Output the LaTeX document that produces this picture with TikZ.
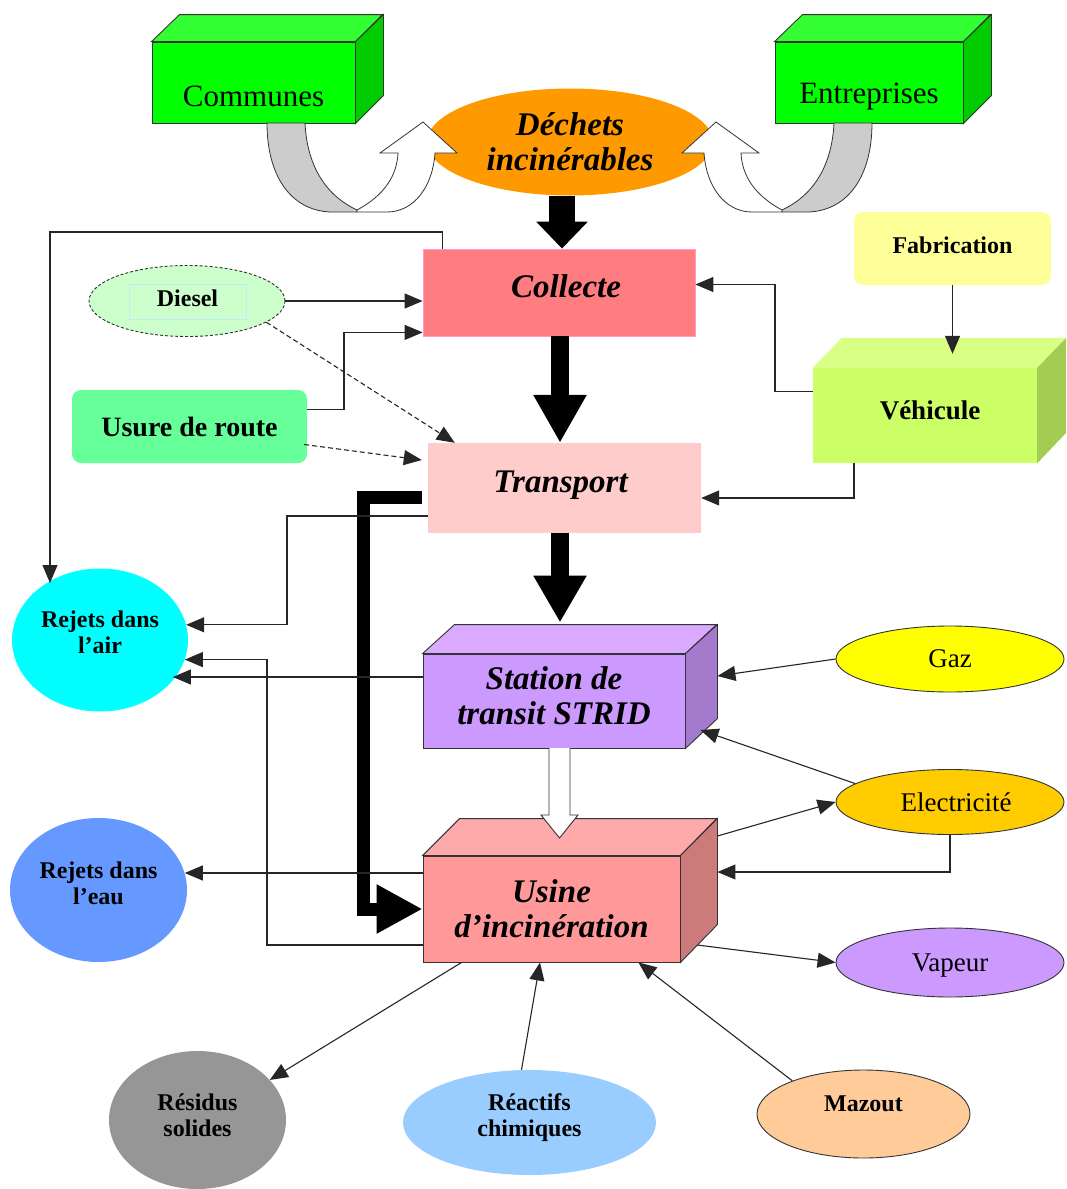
\documentclass[tikz,border=0pt]{standalone}
\usepackage{fontspec}
\setmainfont{Liberation Serif}
\usetikzlibrary{arrows.meta,shapes.geometric}
\definecolor{cgreen}{HTML}{00FF00}
\definecolor{cgreentop}{HTML}{33FF33}
\definecolor{cgreenside}{HTML}{00CC00}
\definecolor{corange}{HTML}{FF9900}
\definecolor{csalmon}{HTML}{FF7C80}
\definecolor{cpinkborder}{HTML}{FF99CC}
\definecolor{cpink}{HTML}{FFCCCC}
\definecolor{cviolet}{HTML}{CC99FF}
\definecolor{cviolettop}{HTML}{D9AAFF}
\definecolor{cvioletside}{HTML}{A37ACC}
\definecolor{cusine}{HTML}{FF9999}
\definecolor{cusinetop}{HTML}{FFAAAA}
\definecolor{cusineside}{HTML}{CC7A7A}
\definecolor{cveh}{HTML}{CCFF66}
\definecolor{cvehtop}{HTML}{D9FF85}
\definecolor{cvehside}{HTML}{A3CC52}
\definecolor{cdiesel}{HTML}{CCFFCC}
\definecolor{cusure}{HTML}{66FF99}
\definecolor{cfab}{HTML}{FFFF99}
\definecolor{cair}{HTML}{00FFFF}
\definecolor{ceau}{HTML}{6699FF}
\definecolor{cgaz}{HTML}{FFFF00}
\definecolor{celec}{HTML}{FFCC00}
\definecolor{cvap}{HTML}{CC99FF}
\definecolor{cres}{HTML}{969696}
\definecolor{creac}{HTML}{99CCFF}
\definecolor{cmaz}{HTML}{FFCC99}
\definecolor{cband}{HTML}{CCCCCC}
\begin{document}
\begin{tikzpicture}[x=1pt,y=-1pt,
  conn/.style={line width=1.1pt, draw=black!85, -{Triangle[length=18pt,width=15pt]}},
  dconn/.style={conn, dash pattern=on 5pt off 3pt},
  face/.style={draw=black!80, line width=0.9pt},
  bigtxt/.style={font=\fontsize{33}{35}\selectfont\bfseries\itshape, align=center},
  smalltxt/.style={font=\fontsize{24}{26}\selectfont\bfseries, align=center},
  regtxt/.style={font=\fontsize{27}{29}\selectfont, align=center},
  oval/.style={ellipse, inner sep=0pt},
  bigarrow/.style={line width=#1, draw=black},
]
\useasboundingbox (0,0) rectangle (1066,1189);
\fill[white] (0,0) rectangle (1066,1189);

% ---------- top boxes
\node[face, fill=cgreen, minimum width=203pt, minimum height=81pt, inner sep=0pt,
  label={[font=\fontsize{31}{31}\selectfont, yshift=-14pt]center:Communes}] (communes) at (253.5,82.5) {};
\draw[face, fill=cgreentop] (communes.north west) -- ++(28,-27) -- ++(203,0) -- (communes.north east) -- cycle;
\draw[face, fill=cgreenside] (communes.north east) -- ++(28,-27) -- ++(0,81) -- (communes.south east) -- cycle;

\node[face, fill=cgreen, minimum width=188pt, minimum height=81pt, inner sep=0pt,
  label={[font=\fontsize{31}{31}\selectfont, yshift=-14pt]center:Entreprises}] (entreprises) at (869,82.5) {};
\draw[face, fill=cgreentop] (entreprises.north west) -- ++(28,-27) -- ++(188,0) -- (entreprises.north east) -- cycle;
\draw[face, fill=cgreenside] (entreprises.north east) -- ++(28,-27) -- ++(0,81) -- (entreprises.south east) -- cycle;

\node[oval, fill=corange, minimum width=286pt, minimum height=107pt, bigtxt] (dechets) at (570,142) {Déchets\\incinérables};

% ---------- U-turn arrows
\draw[face, line width=0.8pt, fill=cband] (267,123) -- (305,123) .. controls (307,165) and (325,195) .. (357,210) -- (357,212) -- (330,212) .. controls (290,210) and (267,175) .. (267,123) -- cycle;
\draw[face, line width=0.8pt, fill=white] (357,210) .. controls (385,195) and (397,175) .. (398,153) -- (380,153) -- (423,122) -- (457,153) -- (435,153) .. controls (433,185) and (415,212) .. (387,212) -- (357,212) -- cycle;
\begin{scope}[shift={(1139,0)}, xscale=-1]
\draw[face, line width=0.8pt, fill=cband] (267,123) -- (305,123) .. controls (307,165) and (325,195) .. (357,210) -- (357,212) -- (330,212) .. controls (290,210) and (267,175) .. (267,123) -- cycle;
\draw[face, line width=0.8pt, fill=white] (357,210) .. controls (385,195) and (397,175) .. (398,153) -- (380,153) -- (423,122) -- (457,153) -- (435,153) .. controls (433,185) and (415,212) .. (387,212) -- (357,212) -- cycle;
\end{scope}

% ---------- main chain
\node[fill=csalmon, draw=cpinkborder, line width=0.8pt, minimum width=272pt, minimum height=87pt,
  label={[bigtxt, shift={(7pt,6pt)}]center:Collecte}] (collecte) at (559,292.5) {};
\node[fill=cpink, minimum width=273pt, minimum height=90pt,
  label={[bigtxt, shift={(-4pt,3pt)}]center:Transport}] (transport) at (564.5,488) {};

\node[face, fill=cviolet, minimum width=262pt, minimum height=94pt, inner sep=0pt,
  label={[bigtxt, yshift=5pt]center:{Station de\\transit STRID}}] (station) at (554,701) {};
\draw[face, fill=cviolettop] (station.north west) -- ++(32,-29) -- ++(262,0) -- (station.north east) -- cycle;
\draw[face, fill=cvioletside] (station.north east) -- ++(32,-29) -- ++(0,94) -- (station.south east) -- cycle;

\node[face, fill=cusine, minimum width=257pt, minimum height=106pt, inner sep=0pt, bigtxt] (usine) at (551.5,909) {Usine\\d’incinération};
\draw[face, fill=cusinetop] (usine.north west) -- ++(37,-37) -- ++(257,0) -- (usine.north east) -- cycle;
\draw[face, fill=cusineside] (usine.north east) -- ++(37,-37) -- ++(0,106) -- (usine.south east) -- cycle;

% ---------- left side
\node[oval, fill=cdiesel, draw=black!80, line width=0.9pt, densely dashed, minimum width=196pt, minimum height=71pt] (diesel) at (187,301) {};
\node[draw=cyan!25, line width=0.6pt, minimum width=117pt, minimum height=35pt, inner sep=0pt,
  label={[smalltxt, yshift=3pt]center:Diesel}] (dieseltxt) at (187.5,301.5) {};
\node[rounded corners=9pt, fill=cusure, minimum width=235pt, minimum height=73pt, font=\fontsize{28}{30}\selectfont\bfseries] (usure) at (189.5,426.5) {Usure de route};

\node[oval, fill=cair, minimum width=176pt, minimum height=143pt,
  label={[smalltxt, yshift=8pt]center:{Rejets dans\\l’air}}] (air) at (100,640) {};
\node[oval, fill=ceau, minimum width=177pt, minimum height=144pt,
  label={[smalltxt, yshift=7pt]center:{Rejets dans\\l’eau}}] (eau) at (98.5,890) {};

% ---------- right side
\node[rounded corners=9pt, fill=cfab, minimum width=197pt, minimum height=73pt,
  label={[smalltxt, yshift=3pt]center:Fabrication}] (fab) at (952.5,248.5) {};
\node[fill=cveh, minimum width=224pt, minimum height=95pt, inner sep=0pt,
  label={[font=\fontsize{27}{29}\selectfont\bfseries, shift={(5pt,5pt)}]center:Véhicule}] (veh) at (925,415.5) {};
\fill[cvehtop] (veh.north west) -- ++(29,-30) -- ++(224,0) -- (veh.north east) -- cycle;
\fill[cvehside] (veh.north east) -- ++(29,-30) -- ++(0,95) -- (veh.south east) -- cycle;

\node[oval, fill=cgaz, draw=black!80, line width=0.9pt, minimum width=228pt, minimum height=66pt, regtxt] (gaz) at (950,659) {Gaz};
\node[oval, fill=celec, draw=black!80, line width=0.9pt, minimum width=228pt, minimum height=65pt, regtxt] (elec) at (950,802) {\hspace*{12pt}Electricité};
\node[oval, fill=cvap, draw=black!80, line width=0.9pt, minimum width=228pt, minimum height=69pt,
  label={[regtxt, yshift=-3pt]center:Vapeur}] (vap) at (950,962.5) {};

% ---------- bottom
\node[oval, fill=cres, minimum width=177pt, minimum height=138pt,
  label={[smalltxt, yshift=5pt]center:{Résidus\\solides}}] (res) at (197.5,1120) {};
\node[oval, fill=creac, minimum width=253pt, minimum height=105pt,
  label={[smalltxt, yshift=5pt]center:{Réactifs\\chimiques}}] (reac) at (529.5,1122.5) {};
\node[oval, fill=cmaz, draw=black!80, line width=0.9pt, minimum width=213pt, minimum height=88pt,
  label={[smalltxt, yshift=10pt]center:Mazout}] (maz) at (863.5,1114) {};

% ---------- thick black arrows
\coordinate (a1) at ([xshift=3pt]collecte.north);
\draw[bigarrow=26pt, -{Triangle[length=27pt,width=50pt]}] (a1 |- dechets.south) -- (a1);
\coordinate (a2) at ([xshift=-4.5pt]transport.north);
\draw[bigarrow=18pt, -{Triangle[length=48pt,width=50pt]}] (a2 |- collecte.south) -- (a2);
\coordinate (a3) at ([shift={(6,-31)}]station.north);
\draw[bigarrow=18pt, -{Triangle[length=47pt,width=50pt]}] (a3 |- transport.south) -- (a3);
\draw[bigarrow=13pt, line join=miter, -{Triangle[length=46pt,width=46pt]}] ([shift={(-6,9)}]transport.west) -| (363,700) |- (usine.west);

% hollow arrow station -> usine
\draw[face, fill=white] (549,748) -- (549,815) -- (541,815) -- (559.5,838) -- (578,815) -- (570,815) -- (570,748);

% ---------- thin connectors
\draw[conn] ([xshift=20pt]collecte.north west) |- (50,232) -- (50,583);
\draw[conn] ([shift={(0,28)}]transport.west) -- (287,516) |- (air.10);
\draw[conn] ([shift={(0,36)}]usine.west) -- (267,945) |- (air.347);
\draw[conn] ([shift={(0,-24)}]station.west) -- ([shift={(0,-24)}]station.west -| air.331);
\draw[conn] ([shift={(0,-36)}]usine.west) -- ([shift={(0,-36)}]usine.west -| eau.11);

\draw[conn] (diesel.east) -- (diesel.east -| collecte.west);
\draw[dconn] (diesel.345) -- ([xshift=27pt]transport.north west);
\draw[conn] ([shift={(0,-17)}]usure.east) -- (344,409.5) |- ([shift={(0,-4)}]collecte.south west);
\draw[dconn] ([shift={(-3,18)}]usure.east) -- ([shift={(-6,-28)}]transport.west);

\draw[conn] (fab.south) -- ([shift={(0,-14)}]veh.north -| fab.south);
\draw[conn] ([shift={(0,-24)}]veh.west) -- (775,391.5) |- ([shift={(0,-8)}]collecte.east);
\draw[conn] ([xshift=-71pt]veh.south) |- ([shift={(0,10)}]transport.east);

\draw[conn] (gaz.west) -- ([shift={(32,-25)}]station.east);
\draw[conn] (elec.169) -- ([shift={(15,29)}]station.east);
\draw[conn] ([shift={(37,-73)}]usine.east) -- (elec.west);
\draw[conn] (elec.south) |- ([shift={(37,-37)}]usine.east);
\draw[conn] ([shift={(17,36)}]usine.east) -- (vap.west);

\draw[conn] ([xshift=39pt]usine.south west) -- (res.29);
\draw[conn] ([xshift=-8pt]reac.north) -- ([xshift=-11.5pt]usine.south);
\draw[conn] (maz.155) -- ([xshift=-42pt]usine.south east);
\end{tikzpicture}
\end{document}
